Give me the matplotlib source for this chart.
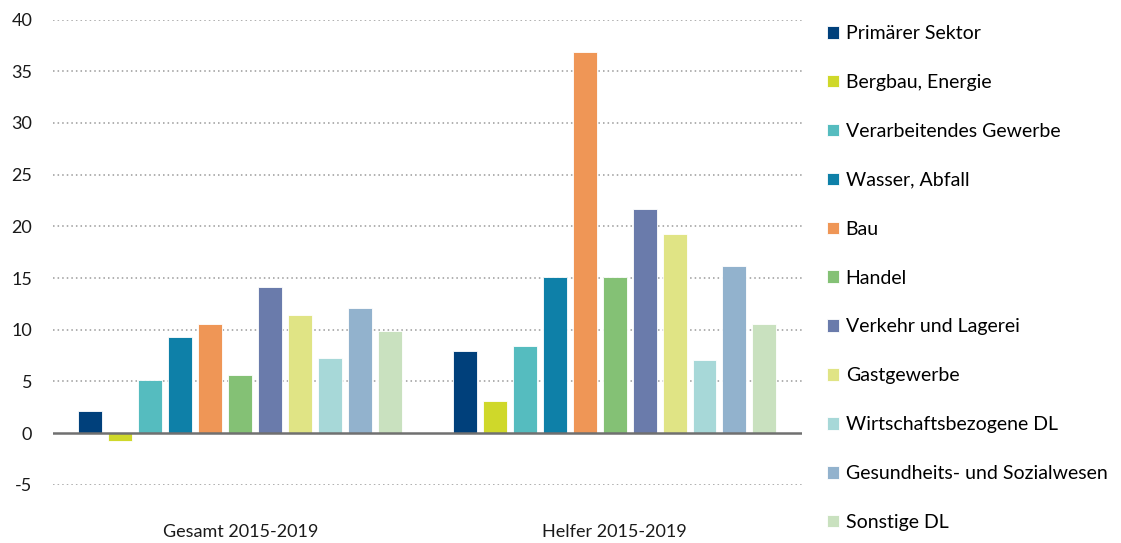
import matplotlib
matplotlib.use("Agg")
import matplotlib.pyplot as plt
import numpy as np

plt.rcParams["font.family"] = ["Lato", "DejaVu Sans"]
plt.rcParams["axes.unicode_minus"] = False

groups = ["Gesamt 2015-2019", "Helfer 2015-2019"]
sectors = [
    "Primärer Sektor",
    "Bergbau, Energie",
    "Verarbeitendes Gewerbe",
    "Wasser, Abfall",
    "Bau",
    "Handel",
    "Verkehr und Lagerei",
    "Gastgewerbe",
    "Wirtschaftsbezogene DL",
    "Gesundheits- und Sozialwesen",
    "Sonstige DL",
]
gesamt = [2.1, -0.8, 5.1, 9.3, 10.6, 5.6, 14.1, 11.4, 7.3, 12.1, 9.9]
helfer = [7.9, 3.1, 8.4, 15.1, 36.9, 15.1, 21.7, 19.3, 7.1, 16.2, 10.6]
colors = [
    "#00407b", "#cfd82a", "#55bcbf", "#0e80a8", "#ef9656", "#84c175",
    "#6a7bab", "#e0e485", "#a7d8d8", "#92b2cd", "#c9e1bf",
]

fig = plt.figure(figsize=(11.21, 5.43), dpi=100)
ax = fig.add_axes([0.0473, 0.107, 0.668, 0.857])

x = np.arange(len(groups))
slot = 0.08
width = 0.064
n = len(sectors)
for i, (name, col) in enumerate(zip(sectors, colors)):
    vals = [gesamt[i], helfer[i]]
    offset = (i - (n - 1) / 2) * slot
    ax.bar(x + offset, vals, width, color=col, label=name,
           edgecolor="white", linewidth=0.6, zorder=2)

ax.axhline(0, color="#707070", linewidth=1.8, zorder=3)
ax.set_xlim(-0.5, 1.5)
ax.set_ylim(-5, 40)
ax.set_yticks(np.arange(-5, 41, 5))
ax.set_xticks(x)
ax.set_xticklabels(groups)
for y in np.arange(-5, 41, 5):
    if y != 0:
        ax.axhline(y, color="#9a9a9a", linewidth=1.1, linestyle=(0, (1, 2)), zorder=1)

for s in ax.spines.values():
    s.set_visible(False)
ax.tick_params(axis="both", length=0, labelsize=13, colors="#1a1a1a")
ax.tick_params(axis="y", pad=15)
ax.tick_params(axis="x", pad=28)

fig.legend(
    loc="upper left",
    bbox_to_anchor=(0.731, 0.968),
    frameon=False,
    fontsize=14,
    handlelength=0.62,
    handleheight=0.62,
    handletextpad=0.33,
    labelspacing=1.64,
    borderaxespad=0,
)

fig.savefig("out.png", dpi=100)
